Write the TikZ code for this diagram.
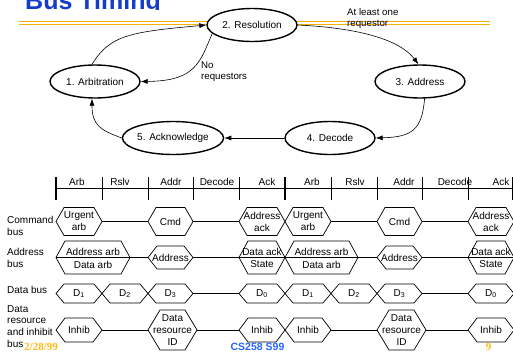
\documentclass[tikz,border=0pt]{standalone}
\usepackage{fontspec}
\setmainfont{Liberation Sans}
\newfontfamily\datefont{Liberation Serif}
\usetikzlibrary{shapes.geometric,arrows.meta}

\definecolor{titleblue}{RGB}{20,60,200}
\definecolor{footblue}{RGB}{40,100,255}
\definecolor{rulegold}{RGB}{245,180,0}
\definecolor{dategold}{RGB}{255,185,20}

\tikzset{
  state/.style={ellipse,draw=black,line width=1.4pt,fill=white,minimum width=90pt,minimum height=33pt,inner sep=0pt,font=\fontsize{10}{12}\selectfont},
  trans/.style={draw=black,line width=0.6pt,-{Latex[length=7pt,width=5pt]}},
  note/.style={anchor=west,align=left,inner sep=0pt,font=\fontsize{9.7}{11}\selectfont},
  sigline/.style={draw=black,line width=0.7pt},
  sigtext/.style={inner sep=0pt,align=center,font=\fontsize{10}{12}\selectfont},
  rowlabel/.style={anchor=north west,align=left,inner sep=0pt,font=\fontsize{10}{11.7}\selectfont},
}

% left, right, middle y, half height, slant, text
\newcommand{\bushex}[6]{%
  \draw[sigline,fill=white] (#1,#3) -- (#1+#5,#3-#4) -- (#2-#5,#3-#4) -- (#2,#3)
    -- (#2-#5,#3+#4) -- (#1+#5,#3+#4) -- cycle;
  \node[sigtext] at ({(#1+#2)/2},#3) {#6};}
% same, split in two by the bus line
\newcommand{\bushexsplit}[7]{%
  \bushex{#1}{#2}{#3}{#4}{#5}{}
  \draw[sigline] (#1,#3) -- (#2,#3);
  \node[sigtext] at ({(#1+#2)/2},#3-6) {#6};
  \node[sigtext] at ({(#1+#2)/2},#3+7) {#7};}

\begin{document}
\begin{tikzpicture}[x=1pt,y=-1pt]
\useasboundingbox (0,0) rectangle (513,356);
\clip (0,0) rectangle (513,356);

% title
\begin{scope}
  \clip (0,0) rectangle (513,9.5);
  \node[anchor=base west,inner sep=0pt,text=titleblue,font=\bfseries\fontsize{25}{30}\selectfont] (title) at (25,9.5) {Bus Timing};
\end{scope}
\draw[rulegold,line width=0.9pt] (19,21.8) -- (490,21.8) (19,24.2) -- (490,24.2);

% bus states
\node[state] (res) at (252,25) {2. Resolution};
\node[state] (arb) at (95,81.5) {1. Arbitration};
\node[state] (adr) at (420,81.5) {3. Address};
\node[state] (dec) at (330,138) {4. Decode};
\node[state] (ack) at (173,138) {5. Acknowledge};

\draw[trans] (arb.100) .. controls (110,35) and (130,32) .. (res.west);
\draw[trans] (res.192) .. controls (200,62) and (196,81) .. (arb.east);
\draw[trans] (res.east) .. controls (360,28) and (400,40) .. (adr.95);
\draw[trans] (adr.285) .. controls (422,130) and (412,137) .. (dec.east);
\draw[trans] (dec.west) -- (ack.east);
\draw[trans] (ack.west) .. controls (100,130) and (92,125) .. (arb.260);

\node[note] (noreq) at (201,71.5) {No\\requestors};
\node[note] (onereq) at (347,18.5) {At least one\\requestor};

% time axis
\draw[sigline] (56,188) -- (514,188);
\foreach \x in {102,148,193,239,331,377,422,468,512}
  \draw[sigline] (\x,177) -- (\x,200);
\foreach \x in {56,285}
  \draw[line width=1.6pt] (\x,177) -- (\x,200);
\foreach \x/\lbl in {77/Arb,120/Rslv,171/Addr,217/Decode,267/Ack,312/Arb,355/Rslv,404/Addr,455/Decode,501/Ack}
  \node[sigtext] at (\x,182) {\lbl};

% row names
\node[rowlabel] (cmdname) at (7,216) {Command\\bus};
\node[rowlabel] (adrname) at (7,248.2) {Address\\bus};
\node[rowlabel,anchor=west] (datname) at (7,290) {Data bus};
\node[rowlabel] (resname) at (7,305) {Data\\resource\\and inhibit\\bus};

% bus lines
\foreach \y in {221.5,257.5,293.5,330}
  \draw[sigline] (56,\y) -- (514,\y);

% command bus
\bushex{56}{102}{221.5}{14}{8}{Urgent\\arb}
\bushex{148}{193}{221.5}{14}{8}{Cmd}
\bushex{239}{285}{221.5}{14}{8}{Address\\ack}
\bushex{285}{331}{221.5}{14}{8}{Urgent\\arb}
\bushex{377}{422}{221.5}{14}{8}{Cmd}
\bushex{468}{514}{221.5}{14}{8}{Address\\ack}

% address bus
\bushexsplit{56}{130}{257.5}{16.5}{9}{Address arb}{Data arb}
\bushex{148}{193}{257.5}{11.5}{9}{Address}
\bushexsplit{239}{285}{257.5}{16.5}{9}{Data ack}{State}
\bushexsplit{285}{358}{257.5}{16.5}{9}{Address arb}{Data arb}
\bushex{377}{422}{257.5}{11.5}{9}{Address}
\bushexsplit{468}{514}{257.5}{16.5}{9}{Data ack}{State}

% data bus
\bushex{56}{102}{293.5}{9.5}{8}{D\textsubscript{1}}
\bushex{102}{148}{293.5}{9.5}{8}{D\textsubscript{2}}
\bushex{148}{193}{293.5}{9.5}{8}{D\textsubscript{3}}
\bushex{239}{285}{293.5}{9.5}{8}{D\textsubscript{0}}
\bushex{285}{331}{293.5}{9.5}{8}{D\textsubscript{1}}
\bushex{331}{377}{293.5}{9.5}{8}{D\textsubscript{2}}
\bushex{377}{422}{293.5}{9.5}{8}{D\textsubscript{3}}
\bushex{468}{514}{293.5}{9.5}{8}{D\textsubscript{0}}

% data resource and inhibit bus
\bushex{56}{102}{330}{12}{9}{Inhib}
\bushex{148}{197}{330}{20}{12}{Data\\resource\\ID}
\bushex{239}{285}{330}{12}{9}{Inhib}
\bushex{285}{331}{330}{12}{9}{Inhib}
\bushex{377}{426}{330}{20}{12}{Data\\resource\\ID}
\bushex{468}{514}{330}{12}{9}{Inhib}

% footer
\node[anchor=base west,inner sep=0pt,text=dategold,font=\datefont\bfseries\fontsize{11}{13}\selectfont] (date) at (24,350.8) {2/28/99};
\node[anchor=base,inner sep=0pt,text=footblue,font=\bfseries\fontsize{10.5}{12}\selectfont] (course) at (257.5,350.5) {CS258 S99};
\node[anchor=base,inner sep=0pt,text=dategold,font=\datefont\bfseries\fontsize{11}{13}\selectfont] (page) at (488.5,350.5) {9};
\end{tikzpicture}
\end{document}
